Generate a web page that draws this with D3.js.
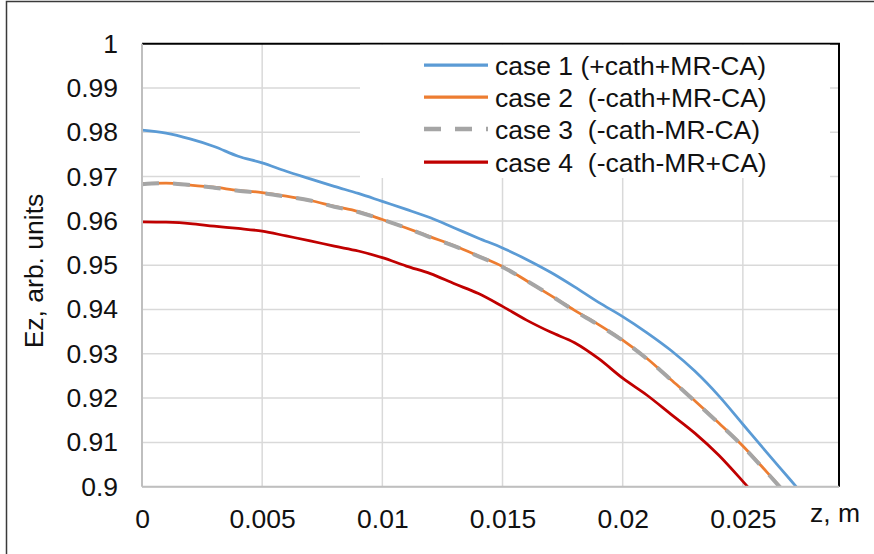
<!DOCTYPE html>
<html>
<head>
<meta charset="utf-8">
<script src="https://cdn.jsdelivr.net/npm/d3@7"></script>
<style>
  html, body { margin: 0; padding: 0; background: #fff; }
  svg { display: block; font-family: "Liberation Sans", Arial, sans-serif; }
  text { white-space: pre; }
</style>
</head>
<body>
<svg id="chart" width="874" height="554"></svg>
<script>
// ---- data ----
const zValues = [0, 0.001, 0.002, 0.003, 0.004, 0.005, 0.006, 0.007, 0.008, 0.009,
  0.010, 0.011, 0.012, 0.013, 0.014, 0.015, 0.016, 0.017, 0.018, 0.019,
  0.020, 0.021, 0.022, 0.023, 0.024, 0.025, 0.026, 0.027, 0.028];

const case1 = [0.9805, 0.9798, 0.9785, 0.9768, 0.9746, 0.9731, 0.9712, 0.9695, 0.9678, 0.9662,
  0.9644, 0.9626, 0.9607, 0.9584, 0.9561, 0.9539, 0.9513, 0.9484, 0.9451, 0.9416,
  0.9384, 0.9348, 0.9308, 0.9261, 0.9205, 0.9141, 0.9077, 0.9014, 0.8950];

const case2 = [0.9684, 0.9685, 0.9681, 0.9676, 0.9669, 0.9664, 0.9656, 0.9646, 0.9633, 0.9621,
  0.9603, 0.9584, 0.9564, 0.9544, 0.9521, 0.9497, 0.9465, 0.9432, 0.9398, 0.9366,
  0.9331, 0.9290, 0.9242, 0.9194, 0.9144, 0.9092, 0.9033, 0.8972, 0.8910];

const case3 = [0.9683, 0.9685, 0.9681, 0.9675, 0.9668, 0.9663, 0.9655, 0.9646, 0.9632, 0.9620,
  0.9603, 0.9584, 0.9563, 0.9543, 0.9520, 0.9496, 0.9465, 0.9432, 0.9397, 0.9365,
  0.9330, 0.9289, 0.9242, 0.9193, 0.9143, 0.9091, 0.9032, 0.8971, 0.8910];

const case4 = [0.9598, 0.9597, 0.9594, 0.9588, 0.9583, 0.9577, 0.9566, 0.9555, 0.9543, 0.9532,
  0.9517, 0.9498, 0.9481, 0.9458, 0.9436, 0.9407, 0.9376, 0.9349, 0.9325, 0.9289,
  0.9245, 0.9207, 0.9164, 0.9121, 0.9071, 0.9012, 0.8950, 0.8885, 0.8815];

const seriesNames = ["case 1 (+cath+MR-CA)", "case 2  (-cath+MR-CA)", "case 3  (-cath-MR-CA)", "case 4  (-cath-MR+CA)"];
const seriesValues = [case1, case2, case3, case4];
const seriesColors = ["#5b9bd5", "#ed7d31", "#a5a5a5", "#c00000"];
const seriesDash = [null, null, "17,14", null];
const seriesWidth = [2.75, 2.75, 4, 2.75];

const xTicks = [0, 0.005, 0.01, 0.015, 0.02, 0.025];
const xTickLabels = ["0", "0.005", "0.01", "0.015", "0.02", "0.025"];
const yTicks = [1, 0.99, 0.98, 0.97, 0.96, 0.95, 0.94, 0.93, 0.92, 0.91, 0.9];
const yTickLabels = ["1", "0.99", "0.98", "0.97", "0.96", "0.95", "0.94", "0.93", "0.92", "0.91", "0.9"];
const xTitle = "z, m";
const yTitle = "Ez, arb. units";

// ---- layout ----
const FS = 26.5;
const svg = d3.select("#chart");
const L = 142, R = 839, T = 43.7, B = 486.7;
const x = d3.scaleLinear().domain([0, 0.029]).range([L, R]);
const y = d3.scaleLinear().domain([0.9, 1]).range([B, T]);

// outer frame (cropped: top and left visible)
svg.append("rect").attr("x", 6.5).attr("y", 1.5).attr("width", 900).attr("height", 600)
  .attr("fill", "none").attr("stroke", "#3a3a3a").attr("stroke-width", 1.5);

// gridlines
svg.append("g").selectAll("line").data(yTicks.slice(1)).join("line")
  .attr("x1", L).attr("x2", R).attr("y1", d => y(d)).attr("y2", d => y(d))
  .attr("stroke", "#d9d9d9").attr("stroke-width", 1.5);
svg.append("g").selectAll("line").data(xTicks.slice(1)).join("line")
  .attr("x1", d => x(d)).attr("x2", d => x(d)).attr("y1", T).attr("y2", B)
  .attr("stroke", "#d9d9d9").attr("stroke-width", 1.5);

// series
svg.append("clipPath").attr("id", "clip").append("rect")
  .attr("x", L).attr("y", T).attr("width", R - L).attr("height", B - T);
const line = d3.line().x((d, i) => x(zValues[i])).y(d => y(d)).curve(d3.curveMonotoneX);
const gS = svg.append("g").attr("clip-path", "url(#clip)");
seriesValues.forEach((vals, k) => {
  gS.append("path").datum(vals).attr("d", line)
    .attr("fill", "none").attr("stroke", seriesColors[k])
    .attr("stroke-width", seriesWidth[k])
    .attr("stroke-dasharray", seriesDash[k])
    .attr("stroke-linejoin", "round");
});

// plot border: top and right black, left and bottom gray axes
svg.append("line").attr("x1", L).attr("x2", R + 1).attr("y1", T).attr("y2", T)
  .attr("stroke", "#000").attr("stroke-width", 2);
svg.append("line").attr("x1", R).attr("x2", R).attr("y1", T).attr("y2", B)
  .attr("stroke", "#000").attr("stroke-width", 2);
svg.append("line").attr("x1", L).attr("x2", L).attr("y1", T).attr("y2", B)
  .attr("stroke", "#bfbfbf").attr("stroke-width", 2);
svg.append("line").attr("x1", L).attr("x2", R).attr("y1", B).attr("y2", B)
  .attr("stroke", "#bfbfbf").attr("stroke-width", 2);

// axes (labels only)
const xAxis = d3.axisBottom(x).tickValues(xTicks).tickFormat((d, i) => xTickLabels[i])
  .tickSize(0).tickPadding(22);
const gx = svg.append("g").attr("transform", `translate(0,${B})`).call(xAxis);
gx.select(".domain").remove();
gx.selectAll("text").attr("font-size", FS).attr("font-family", "Liberation Sans, Arial, sans-serif").attr("fill", "#111");

const yAxis = d3.axisLeft(y).tickValues(yTicks).tickFormat((d, i) => yTickLabels[i])
  .tickSize(0).tickPadding(24);
const gy = svg.append("g").attr("transform", `translate(${L},0)`).call(yAxis);
gy.select(".domain").remove();
gy.selectAll("text").attr("font-size", FS).attr("font-family", "Liberation Sans, Arial, sans-serif").attr("fill", "#111");

// axis titles
svg.append("text").attr("x", 810).attr("y", 522).attr("font-size", FS).attr("fill", "#111").text(xTitle);
svg.append("text").attr("transform", "translate(43,271) rotate(-90)").attr("text-anchor", "middle")
  .attr("font-size", FS).attr("fill", "#111").text(yTitle);

// legend
const lg = svg.append("g");
lg.append("rect").attr("x", 360).attr("y", T + 1).attr("width", 470).attr("height", 178 - T - 1).attr("fill", "#fff");
const rowY = [65, 97, 129, 162];
seriesNames.forEach((name, k) => {
  lg.append("line").attr("x1", 424).attr("x2", 488).attr("y1", rowY[k]).attr("y2", rowY[k])
    .attr("stroke", seriesColors[k]).attr("stroke-width", seriesWidth[k] + 0.5)
    .attr("stroke-dasharray", seriesDash[k]);
  lg.append("text").attr("x", 495).attr("y", rowY[k] + 9.5).attr("font-size", FS)
    .attr("fill", "#111").text(name);
});
</script>
</body>
</html>
